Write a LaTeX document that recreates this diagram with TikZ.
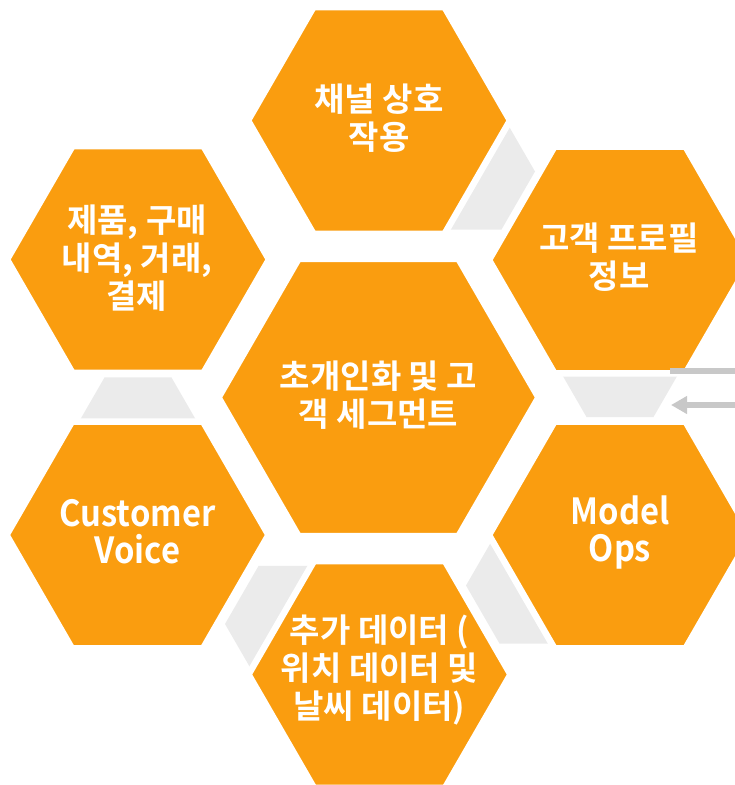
\documentclass[tikz,border=0pt]{standalone}
\usepackage{fontspec}
\usetikzlibrary{shapes.geometric,arrows.meta}
\newfontfamily\krfont{Noto Sans CJK KR Bold}
\definecolor{hexorange}{RGB}{250,157,15}
\definecolor{hexgray}{RGB}{235,235,235}
\definecolor{arrowgray}{RGB}{200,200,200}
\newcommand{\narrow}[1]{\scalebox{0.91}[1]{#1}}
\begin{document}
\begin{tikzpicture}[x=1pt,y=-1pt,
  hexbox/.style={regular polygon, regular polygon sides=6, fill=hexorange,
    draw=white, line width=6.5pt, inner sep=0pt},
  outerhex/.style={hexbox, minimum size=262pt},
  centerhex/.style={hexbox, minimum size=320pt},
  grayhex/.style={regular polygon, regular polygon sides=6, fill=hexgray,
    draw=none, inner sep=0pt, minimum size=134pt},
  label/.style={text=white, align=center, inner sep=0pt,
    font=\krfont\fontsize{33}{38}\selectfont},
  latin/.style={label, font=\krfont\fontsize{36}{37}\selectfont},
  grayline/.style={draw=arrowgray, line width=5.5pt}]
\useasboundingbox (0,0) rectangle (735,785);
\clip (0,0) rectangle (735,785);
% gray connector hexagons
\node[grayhex] (g1) at (468,171.5) {};
\node[grayhex] (g2) at (620,359) {};
\node[grayhex] (g3) at (533,585.5) {};
\node[grayhex] (g4) at (292,624) {};
\node[grayhex] (g5) at (138,435.5) {};
% orange hexagons
\node[centerhex] (c) at (378.5,397.5) {};
\node[outerhex] (t) at (379,120.5) {};
\node[outerhex] (tr) at (620,260) {};
\node[outerhex] (br) at (620,535) {};
\node[outerhex] (b) at (379.5,674.5) {};
\node[outerhex] (bl) at (137.5,535) {};
\node[outerhex] (tl) at (138,259.5) {};
% labels
\node[label] (cl) at (378.5,395) {초개인화 및 고\\객 세그먼트};
\node[label] (tlb) at (379,118) {채널 상호\\작용};
\node[label] (trl) at (619,257) {고객 프로필\\정보};
\node[latin] (brl) at (620,532) {\narrow{Model}\\\narrow{Ops}};
\node[label] (bll) at (379.5,670) {추가 데이터 (\\위치 데이터 및\\날씨 데이터)};
\node[latin] (bvl) at (137.5,532) {\narrow{Customer}\\\narrow{Voice}};
\node[label] (tll) at (137,258) {제품, 구매\\내역, 거래,\\결제};
% arrows at right edge
\coordinate (a1s) at (735,371);
\coordinate (a1e) at (670,371);
\coordinate (a2s) at (735,405);
\coordinate (a2e) at (671,405);
\draw[grayline] (a1s) -- (a1e);
\draw[grayline, -{Triangle[length=16pt,width=17pt]}] (a2s) -- (a2e);
\end{tikzpicture}
\end{document}
